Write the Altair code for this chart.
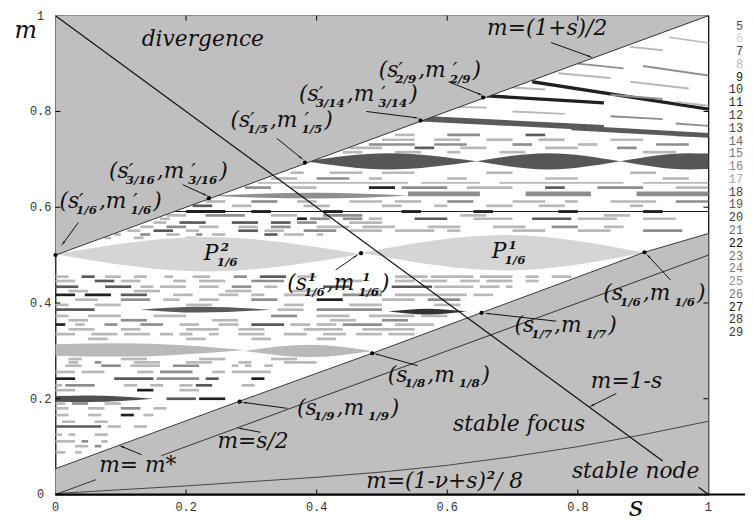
import math
import altair as alt
import pandas as pd

W, H = 660, 484

# ---------------- data ----------------
axis_vals = [0, 0.2, 0.4, 0.6, 0.8, 1]
axis_text = ["0", "0.2", "0.4", "0.6", "0.8", "1"]
inner_ticks = [0.2, 0.4, 0.6, 0.8]

# divergence boundary m=(1+s)/2
div_s = [0.0, 1.0]
div_m = [0.5, 1.0]
# lower boundary m = m*
mstar_s = [0.0, 0.28, 0.485, 0.653, 0.902, 1.0]
mstar_m = [0.054, 0.194, 0.295, 0.38, 0.506, 0.545]
# m=(1-nu+s)^2/8
para_s = [0.0, 0.1, 0.2, 0.3, 0.4, 0.5, 0.6, 0.7, 0.8, 0.9, 1.0]
para_m = [0.002, 0.01, 0.018, 0.027, 0.036, 0.047, 0.061, 0.079, 0.1, 0.125, 0.153]
# straight lines, visible pieces (s1, m1, s2, m2)
line_1ms = [(0.0, 1.0, 0.93, 0.07), (0.985, 0.015, 1.0, 0.0)]
line_half = [(0.0, 0.0, 0.062, 0.031), (0.162, 0.081, 1.0, 0.5)]

# special points
dot_s = [0.0, 0.235, 0.382, 0.559, 0.655, 0.468, 0.902, 0.6525, 0.485, 0.282]
dot_m = [0.5, 0.619, 0.693, 0.781, 0.829, 0.504, 0.506, 0.3795, 0.295, 0.194]

# arrows (from s, from m, to s, to m)
arrows = [
    (0.035, 0.568, 0.012, 0.525),
    (0.195, 0.647, 0.229, 0.626),
    (0.339, 0.744, 0.376, 0.703),
    (0.476, 0.800, 0.552, 0.787),
    (0.602, 0.862, 0.650, 0.836),
    (0.759, 0.944, 0.818, 0.915),
    (0.429, 0.469, 0.460, 0.498),
    (0.942, 0.448, 0.908, 0.498),
    (0.767, 0.362, 0.662, 0.378),
    (0.555, 0.269, 0.492, 0.293),
    (0.355, 0.180, 0.290, 0.192),
    (0.859, 0.211, 0.822, 0.186),
    (0.314, 0.130, 0.283, 0.138),
    (0.132, 0.083, 0.102, 0.100),
]

# lenses: (s1, h1, s_peak, h_peak, s2, h2, m_centre, colour)
lenses = [
    (0.0, 0.0, 0.23, 0.036, 0.468, 0.0, 0.502, "#d5d5d5"),
    (0.468, 0.0, 0.69, 0.037, 0.902, 0.0, 0.505, "#d5d5d5"),
    (0.0, 0.012, 0.10, 0.014, 0.29, 0.0, 0.302, "#b9b9b9"),
    (0.29, 0.0, 0.39, 0.013, 0.485, 0.0, 0.300, "#b9b9b9"),
    (0.382, 0.0, 0.51, 0.017, 0.645, 0.0, 0.696, "#565656"),
    (0.645, 0.0, 0.755, 0.017, 0.865, 0.0, 0.696, "#565656"),
    (0.865, 0.0, 0.97, 0.017, 1.0, 0.016, 0.696, "#565656"),
    (0.235, 0.0, 0.40, 0.006, 0.54, 0.0, 0.624, "#8e8e8e"),
    (0.13, 0.0, 0.22, 0.006, 0.33, 0.0, 0.386, "#5a5a5a"),
    (0.51, 0.0, 0.57, 0.006, 0.63, 0.0, 0.382, "#333333"),
    (0.0, 0.006, 0.05, 0.007, 0.15, 0.0, 0.200, "#4f4f4f"),
]

tone_colors = ["#202020", "#5a5a5a", "#8e8e8e", "#b8b8b8"]

# horizontal dashes: m level, [(s1, s2, tone)]
row_m = [0.612, 0.603, 0.583, 0.576, 0.568, 0.559, 0.551, 0.543, 0.536,
         0.751, 0.741, 0.731, 0.724, 0.715, 0.672, 0.66, 0.651, 0.641, 0.628,
         0.455, 0.446, 0.434, 0.425, 0.417, 0.407, 0.396, 0.386, 0.373, 0.364,
         0.355, 0.345, 0.335, 0.325, 0.283, 0.276, 0.269, 0.256, 0.242, 0.228,
         0.218, 0.2, 0.19, 0.18, 0.166, 0.152, 0.142, 0.125, 0.111, 0.101, 0.088]
row_segs = [
    [(0.23, 0.26, 3), (0.3, 0.34, 2), (0.37, 0.4, 3), (0.45, 0.5, 3), (0.52, 0.56, 3), (0.6, 0.64, 2), (0.7, 0.75, 3), (0.78, 0.8, 3), (0.85, 0.92, 3), (0.95, 1.0, 2)],
    [(0.21, 0.24, 1), (0.27, 0.3, 3), (0.38, 0.42, 3), (0.5, 0.53, 3), (0.58, 0.6, 3), (0.66, 0.7, 3), (0.74, 0.78, 3), (0.88, 0.9, 3)],
    [(0.17, 0.2, 3), (0.23, 0.29, 2), (0.33, 0.37, 3), (0.41, 0.47, 2), (0.62, 0.66, 3), (0.84, 0.88, 3)],
    [(0.16, 0.175, 3), (0.37, 0.385, 0), (0.39, 0.42, 2), (0.44, 0.47, 2), (0.48, 0.5, 3), (0.55, 0.6, 1), (0.64, 0.7, 3), (0.73, 0.79, 1), (0.8, 0.86, 3), (0.9, 0.95, 3)],
    [(0.15, 0.17, 3), (0.19, 0.23, 1), (0.27, 0.31, 1), (0.33, 0.36, 1), (0.37, 0.4, 2), (0.45, 0.5, 3)],
    [(0.13, 0.15, 3), (0.17, 0.2, 2), (0.22, 0.25, 3), (0.28, 0.31, 3), (0.33, 0.36, 2), (0.4, 0.45, 3), (0.47, 0.52, 3), (0.57, 0.62, 3), (0.67, 0.72, 3), (0.76, 0.8, 2), (0.84, 0.87, 3)],
    [(0.11, 0.13, 3), (0.15, 0.18, 1), (0.2, 0.22, 3), (0.28, 0.31, 1), (0.32, 0.35, 3), (0.38, 0.43, 2), (0.45, 0.5, 3), (0.52, 0.58, 3), (0.6, 0.62, 3), (0.7, 0.75, 3), (0.8, 0.85, 3), (0.9, 0.96, 2)],
    [(0.09, 0.1, 3), (0.13, 0.145, 2), (0.17, 0.19, 3), (0.215, 0.225, 2), (0.24, 0.26, 3), (0.32, 0.34, 1), (0.35, 0.38, 3), (0.4, 0.41, 3)],
    [(0.075, 0.085, 3), (0.12, 0.135, 3), (0.2, 0.215, 3)],
    [(0.52, 0.55, 3), (0.6, 0.65, 2), (0.72, 0.75, 1), (0.95, 1.0, 1)],
    [(0.5, 0.55, 3), (0.58, 0.62, 3), (0.66, 0.7, 3), (0.74, 0.78, 3), (0.85, 0.9, 3)],
    [(0.48, 0.55, 2), (0.58, 0.63, 2), (0.7, 0.73, 2), (0.8, 0.83, 3), (0.92, 0.97, 2)],
    [(0.45, 0.5, 3), (0.55, 0.58, 1), (0.62, 0.66, 3), (0.75, 0.8, 3), (0.86, 0.89, 2)],
    [(0.44, 0.47, 3), (0.52, 0.56, 3), (0.6, 0.62, 3), (0.68, 0.72, 3), (0.9, 0.95, 3)],
    [(0.36, 0.38, 3), (0.42, 0.47, 3), (0.5, 0.55, 3), (0.66, 0.7, 3), (0.88, 0.92, 3)],
    [(0.33, 0.37, 3), (0.4, 0.45, 2), (0.48, 0.5, 3), (0.6, 0.63, 3), (0.75, 0.8, 3), (0.93, 0.97, 3)],
    [(0.31, 0.54, 3), (0.56, 0.65, 3), (0.68, 0.87, 3), (0.9, 1.0, 3)],
    [(0.29, 0.33, 2), (0.36, 0.4, 3), (0.48, 0.52, 0), (0.53, 0.6, 2), (0.63, 0.7, 3), (0.75, 0.78, 1), (0.83, 0.9, 2), (0.95, 1.0, 3)],
    [(0.54, 0.65, 2), (0.72, 0.82, 2), (0.89, 1.0, 2)],
    [(0.0, 0.02, 3), (0.04, 0.06, 1), (0.076, 0.1, 3), (0.12, 0.14, 3), (0.167, 0.18, 3), (0.21, 0.237, 3), (0.273, 0.293, 2), (0.313, 0.353, 1), (0.37, 0.4, 3), (0.52, 0.57, 3), (0.575, 0.64, 3), (0.65, 0.7, 3), (0.72, 0.74, 3), (0.76, 0.79, 3)],
    [(0.0, 0.03, 3), (0.06, 0.09, 1), (0.1, 0.13, 3), (0.18, 0.2, 3), (0.22, 0.26, 3), (0.3, 0.35, 2), (0.43, 0.47, 3), (0.52, 0.55, 3), (0.56, 0.6, 3), (0.62, 0.65, 3), (0.66, 0.7, 3), (0.72, 0.74, 3)],
    [(0.0, 0.035, 1), (0.076, 0.116, 1), (0.13, 0.15, 3), (0.16, 0.2, 3), (0.22, 0.25, 3), (0.27, 0.3, 2), (0.32, 0.34, 3), (0.41, 0.45, 1), (0.515, 0.577, 1), (0.58, 0.64, 3), (0.65, 0.68, 3), (0.69, 0.7, 3)],
    [(0.02, 0.05, 3), (0.12, 0.16, 3), (0.26, 0.3, 3), (0.36, 0.4, 3), (0.47, 0.5, 3)],
    [(0.0, 0.03, 0), (0.045, 0.085, 0), (0.1, 0.14, 1), (0.18, 0.21, 3), (0.25, 0.28, 3), (0.3, 0.32, 3), (0.35, 0.4, 3), (0.44, 0.5, 2), (0.52, 0.63, 3), (0.64, 0.67, 3)],
    [(0.03, 0.065, 3), (0.1, 0.145, 2), (0.165, 0.19, 3), (0.22, 0.25, 3), (0.3, 0.34, 2), (0.4, 0.44, 0), (0.5, 0.55, 3), (0.57, 0.62, 2)],
    [(0.0, 0.02, 3), (0.06, 0.1, 3), (0.2, 0.24, 3), (0.35, 0.38, 3), (0.45, 0.5, 3), (0.58, 0.62, 3)],
    [(0.0, 0.06, 1), (0.34, 0.38, 3), (0.4, 0.5, 2)],
    [(0.0, 0.02, 3), (0.05, 0.1, 3), (0.15, 0.2, 3), (0.33, 0.37, 2), (0.4, 0.45, 3), (0.48, 0.55, 3), (0.56, 0.6, 3)],
    [(0.02, 0.05, 3), (0.1, 0.14, 2), (0.24, 0.28, 3), (0.42, 0.46, 3), (0.5, 0.54, 2)],
    [(0.0, 0.015, 0), (0.03, 0.045, 3), (0.075, 0.095, 2), (0.13, 0.165, 2), (0.19, 0.22, 3), (0.25, 0.28, 3), (0.3, 0.35, 1), (0.36, 0.39, 3), (0.4, 0.43, 3), (0.44, 0.5, 2), (0.52, 0.58, 3)],
    [(0.02, 0.06, 3), (0.1, 0.13, 3), (0.2, 0.25, 3), (0.28, 0.32, 3), (0.38, 0.44, 3), (0.47, 0.55, 3)],
    [(0.0, 0.03, 3), (0.055, 0.095, 3), (0.105, 0.145, 3), (0.16, 0.18, 3), (0.19, 0.21, 3), (0.235, 0.25, 3), (0.28, 0.32, 3), (0.35, 0.385, 3), (0.41, 0.445, 3), (0.46, 0.5, 3), (0.51, 0.55, 3)],
    [(0.05, 0.08, 3), (0.2, 0.23, 3), (0.3, 0.33, 3), (0.4, 0.43, 3)],
    [(0.02, 0.04, 3), (0.1, 0.14, 3), (0.22, 0.26, 3), (0.33, 0.37, 3)],
    [(0.02, 0.035, 3), (0.06, 0.07, 2), (0.12, 0.16, 3), (0.2, 0.24, 3), (0.28, 0.3, 3), (0.35, 0.4, 3)],
    [(0.015, 0.04, 3), (0.07, 0.1, 2), (0.115, 0.16, 3), (0.18, 0.22, 2), (0.27, 0.28, 3), (0.29, 0.3, 3), (0.32, 0.333, 3)],
    [(0.0, 0.03, 3), (0.04, 0.075, 3), (0.125, 0.15, 3), (0.16, 0.21, 2), (0.24, 0.26, 3), (0.27, 0.33, 3)],
    [(0.0, 0.03, 0), (0.09, 0.15, 1), (0.155, 0.22, 2), (0.23, 0.25, 1), (0.3, 0.32, 0)],
    [(0.0, 0.01, 3), (0.015, 0.06, 2), (0.105, 0.125, 3), (0.145, 0.165, 3), (0.19, 0.21, 3), (0.215, 0.24, 1), (0.285, 0.305, 3)],
    [(0.0, 0.03, 3), (0.125, 0.15, 0), (0.19, 0.22, 3)],
    [(0.17, 0.215, 1), (0.22, 0.26, 0)],
    [(0.0, 0.015, 3), (0.025, 0.05, 2), (0.075, 0.1, 3)],
    [(0.0, 0.02, 3), (0.05, 0.075, 3), (0.1, 0.13, 2), (0.15, 0.17, 3)],
    [(0.0, 0.02, 3), (0.05, 0.07, 3), (0.1, 0.12, 0), (0.135, 0.15, 3)],
    [(0.01, 0.03, 3), (0.06, 0.08, 3)],
    [(0.0, 0.07, 1), (0.08, 0.1, 3), (0.12, 0.14, 3)],
    [(0.0, 0.01, 3), (0.02, 0.03, 3), (0.06, 0.08, 3)],
    [(0.0, 0.03, 3), (0.04, 0.05, 2), (0.07, 0.08, 3)],
    [(0.03, 0.05, 3), (0.06, 0.07, 2)],
    [(0.0, 0.015, 3), (0.03, 0.04, 3)],
]
# the long black line at m=0.591 and its thicker pieces
black_line = (0.182, 1.0, 0.591)
black_pieces = [(0.2, 0.26), (0.3, 0.33), (0.41, 0.44), (0.53, 0.56), (0.64, 0.67), (0.77, 0.8), (0.9, 0.93)]

# slanted bands near the top right: (s1, m1, s2, m2, tone, half-thickness)
slanted = [
    (0.559, 0.785, 0.84, 0.766, 1, 0.006),
    (0.79, 0.766, 1.0, 0.75, 1, 0.005),
    (0.655, 0.833, 0.84, 0.818, 0, 0.0035),
    (0.73, 0.862, 1.0, 0.805, 0, 0.0035),
    (0.6, 0.81, 0.66, 0.808, 3, 0.002),
    (0.7, 0.8, 0.78, 0.795, 3, 0.002),
    (0.85, 0.79, 0.93, 0.784, 2, 0.002),
    (0.95, 0.775, 1.0, 0.77, 2, 0.002),
    (0.7, 0.85, 0.75, 0.846, 3, 0.002),
    (0.85, 0.835, 0.93, 0.826, 2, 0.002),
    (0.95, 0.82, 1.0, 0.812, 3, 0.002),
    (0.77, 0.88, 0.85, 0.87, 3, 0.002),
    (0.88, 0.862, 0.97, 0.848, 3, 0.002),
    (0.8, 0.9, 0.87, 0.89, 2, 0.002),
    (0.9, 0.895, 1.0, 0.875, 2, 0.002),
    (0.88, 0.935, 0.93, 0.928, 3, 0.002),
    (0.94, 0.955, 1.0, 0.943, 3, 0.0015),
]

# legend of periods on the right
periods = list(range(5, 30))
period_colors = ["#505050", "#d0d0d0", "#404040", "#b8b8b8", "#202020", "#303030", "#303030",
                 "#404040", "#484848", "#686868", "#7a7a7a", "#888888", "#a8a8a8", "#404040",
                 "#585858", "#383838", "#707070", "#101010", "#707070", "#808080", "#909090",
                 "#787878", "#181818", "#383838", "#383838"]


# annotations: anchor (left, baseline) in data units and pieces
def tup(sub, sup=None):
    a = [("n", "(s")]
    if sup is not None:
        a.append(sup)
    a += [("b", sub), ("n", " ,m")]
    if sup is not None:
        a.append(sup)
    a += [("b", sub), ("n", ")")]
    return a


PR = ("q", "′")
labels = [
    (0.006, 0.599, tup("1/6", PR)),
    (0.082, 0.661, tup("3/16", PR)),
    (0.268, 0.767, tup("1/5", PR)),
    (0.373, 0.822, tup("3/14", PR)),
    (0.495, 0.872, tup("2/9", PR)),
    (0.661, 0.959, [("n", "m=(1+s)/2")]),
    (0.132, 0.936, [("n", "divergence")]),
    (0.227, 0.490, [("n", "P"), ("p", "2"), ("b", "1/6")]),
    (0.668, 0.494, [("n", "P"), ("p", "1"), ("b", "1/6")]),
    (0.355, 0.428, tup("1/6", ("p", "1"))),
    (0.839, 0.407, tup("1/6")),
    (0.703, 0.339, tup("1/7")),
    (0.509, 0.236, tup("1/8")),
    (0.370, 0.167, tup("1/9")),
    (0.820, 0.223, [("n", "m=1-s")]),
    (0.609, 0.132, [("n", "stable focus")]),
    (0.791, 0.035, [("n", "stable node")]),
    (0.476, 0.0145, [("n", "m=(1-ν+s)"), ("p", "2"), ("n", "/ 8")]),
    (0.248, 0.097, [("n", "m=s/2")]),
    (0.067, 0.048, [("n", "m= m*")]),
]

# ---------------- build tables ----------------
CW = {"(": 0.39, ")": 0.39, "s": 0.513, "m": 0.948, ",": 0.318, "=": 0.838, "+": 0.838,
      "-": 0.338, "/": 0.337, " ": 0.318, "P": 0.733, "*": 0.5, "ν": 0.6, "′": 0.3,
      "a": 0.596, "b": 0.64, "c": 0.56, "d": 0.64, "e": 0.592, "f": 0.352, "g": 0.64,
      "i": 0.32, "l": 0.32, "n": 0.644, "o": 0.602, "r": 0.478, "t": 0.402, "u": 0.644,
      "v": 0.565}
# italic correction: scripts tuck in (sub) or lean out (sup)
STY = {"n": dict(size=22, bold=False, dy=0, kern=0),
       "b": dict(size=12, bold=True, dy=6, kern=-3),
       "p": dict(size=12, bold=True, dy=-9, kern=1),
       "q": dict(size=20, bold=False, dy=0, kern=0)}


def tw(t, size, bold):
    return sum(CW.get(c, 0.636) for c in t) * size * (1.09 if bold else 1.0)


text_rows = []
for s0, m0, parts in labels:
    cur, prev, sx = 0.0, None, 0.0
    for kind, txt in parts:
        st = STY[kind]
        w = tw(txt, st["size"], st["bold"])
        if kind != "n":
            if prev is not None and prev != "n" and prev != kind:
                x = sx
                cur = max(cur, x + w + st["kern"])
            else:
                x = cur
                sx = x
                cur = x + w + st["kern"]
            if kind == "b":
                cur += 2
        else:
            x = cur
            cur = x + w
        text_rows.append(dict(s=s0 + (x + st["kern"]) / W, m=m0 - st["dy"] / H,
                              txt=txt, kind=kind))
        prev = kind
text_df = pd.DataFrame(text_rows)

rect_rows = []
for m, segs in zip(row_m, row_segs):
    hh = 0.0018 if m == 0.651 else (0.005 if m == 0.628 else 0.0028)
    for s1, s2, t in segs:
        rect_rows.append(dict(s1=s1, s2=s2, lo=m - hh, hi=m + hh, col=tone_colors[t]))
rect_rows.append(dict(s1=black_line[0], s2=black_line[1], lo=black_line[2] - 0.0012,
                      hi=black_line[2] + 0.0012, col=tone_colors[0]))
for s1, s2 in black_pieces:
    rect_rows.append(dict(s1=s1, s2=s2, lo=black_line[2] - 0.003, hi=black_line[2] + 0.003,
                          col=tone_colors[0]))
rect_df = pd.DataFrame(rect_rows)

slant_rows = []
for i, (s1, m1, s2, m2, t, hh) in enumerate(slanted):
    for s, m in ((s1, m1), (s2, m2)):
        slant_rows.append(dict(id=i, s=s, lo=m - hh, hi=m + hh, col=tone_colors[t]))
slant_df = pd.DataFrame(slant_rows)

lens_rows = []
for i, (s1, h1, sp, hp, s2, h2, mc, col) in enumerate(lenses):
    for s, hh in ((s1, h1), (sp, hp), (s2, h2)):
        lens_rows.append(dict(id=i, s=s, lo=mc - hh, hi=mc + hh, col=col))
lens_df = pd.DataFrame(lens_rows)

div_df = pd.DataFrame({"s": div_s, "lo": div_m, "hi": [1.0] * len(div_s)})
low_df = pd.DataFrame({"s": mstar_s, "lo": [0.0] * len(mstar_s), "hi": mstar_m})
mstar_df = pd.DataFrame({"s": mstar_s, "m": mstar_m})
para_df = pd.DataFrame({"s": para_s, "m": para_m})
seg_df = pd.DataFrame(
    [dict(s1=a, m1=b, s2=c, m2=d, kind="heavy") for a, b, c, d in line_1ms]
    + [dict(s1=a, m1=b, s2=c, m2=d, kind="thin") for a, b, c, d in line_half]
    + [dict(s1=div_s[0], m1=div_m[0], s2=div_s[1], m2=div_m[1], kind="thin")])
dot_df = pd.DataFrame({"s": dot_s, "m": dot_m})

arr_rows, head_rows = [], []
for s1, m1, s2, m2 in arrows:
    arr_rows.append(dict(s1=s1, m1=m1, s2=s2, m2=m2))
    dxp, dyp = (s2 - s1) * W, -(m2 - m1) * H
    ang = math.degrees(math.atan2(dxp, -dyp)) % 360
    head_rows.append(dict(s=s2, m=m2, ang=ang))
arr_df = pd.DataFrame(arr_rows)
head_df = pd.DataFrame(head_rows)

tick_df = pd.DataFrame({"t": inner_ticks})
axis_df = pd.DataFrame({"v": axis_vals, "lab": axis_text})
leg_df = pd.DataFrame({"period": [str(p) for p in periods], "col": period_colors})

# ---------------- chart ----------------
xs = alt.Scale(domain=[0, 1], nice=False, zero=False)
ys = alt.Scale(domain=[0, 1], nice=False, zero=False)


def X(f):
    return alt.X(f, type="quantitative", scale=xs, axis=None)


def Y(f):
    return alt.Y(f, type="quantitative", scale=ys, axis=None)


COL = alt.Color("col:N", scale=None)
REGION = "#bfbfbf"

stripes = alt.Chart(rect_df).mark_rect().encode(
    x=X("s1"), x2="s2", y=Y("lo"), y2="hi", color=COL)
slants = alt.Chart(slant_df).mark_area().encode(
    x=X("s"), y=Y("lo"), y2="hi", detail="id:N", color=COL)
lens_layer = alt.Chart(lens_df).mark_area(interpolate="monotone").encode(
    x=X("s"), y=Y("lo"), y2="hi", detail="id:N", color=COL)

div_layer = alt.Chart(div_df).mark_area(color=REGION).encode(
    x=X("s"), y=Y("lo"), y2="hi")
low_layer = alt.Chart(low_df).mark_area(color=REGION).encode(
    x=X("s"), y=Y("lo"), y2="hi")

mstar_line = alt.Chart(mstar_df).mark_line(color="#3a3a3a", strokeWidth=1).encode(
    x=X("s"), y=Y("m"))
para_line = alt.Chart(para_df).mark_line(color="#444444", strokeWidth=1).encode(
    x=X("s"), y=Y("m"))
heavy = alt.Chart(seg_df).transform_filter(alt.datum.kind == "heavy").mark_rule(
    color="#111111", strokeWidth=1.2).encode(x=X("s1"), x2="s2", y=Y("m1"), y2="m2")
thin = alt.Chart(seg_df).transform_filter(alt.datum.kind == "thin").mark_rule(
    color="#333333", strokeWidth=1).encode(x=X("s1"), x2="s2", y=Y("m1"), y2="m2")

dots = alt.Chart(dot_df).mark_circle(color="black", size=18, opacity=1).encode(
    x=X("s"), y=Y("m"))
arr = alt.Chart(arr_df).mark_rule(color="#111111", strokeWidth=1).encode(
    x=X("s1"), x2="s2", y=Y("m1"), y2="m2")
heads = alt.Chart(head_df).mark_point(shape="wedge", filled=True, color="#111111",
                                       size=45, opacity=1).encode(
    x=X("s"), y=Y("m"), angle=alt.Angle("ang:Q", scale=None))

text_layers = []
for kind, size, weight in (("n", 22, "normal"), ("b", 12, "bold"), ("p", 12, "bold"),
                           ("q", 20, "normal")):
    text_layers.append(
        alt.Chart(text_df).transform_filter(alt.datum.kind == kind).mark_text(
            align="left", baseline="alphabetic", font="DejaVu Serif", fontStyle="italic",
            fontSize=size, fontWeight=weight, color="#111111").encode(
            x=X("s"), y=Y("m"), text="txt:N"))

# axis tick labels and titles
xlab = alt.Chart(axis_df).mark_text(align="center", baseline="middle", font="Liberation Mono",
                                    fontSize=12, color="#333333").encode(
    x=X("v"), y=alt.value(H + 13), text="lab:N")
ylab = alt.Chart(axis_df).mark_text(align="center", baseline="middle", font="Liberation Mono",
                                    fontSize=12, color="#333333").encode(
    y=Y("v"), x=alt.value(-15), text="lab:N")
titles_df = pd.DataFrame({"t": ["s", "m"]})
xtitle = alt.Chart(titles_df).transform_filter(alt.datum.t == "s").mark_text(
    align="center", baseline="alphabetic", font="DejaVu Serif", fontStyle="italic",
    fontSize=28, color="#111111").encode(x=alt.value(587), y=alt.value(H + 22), text="t:N")
ytitle = alt.Chart(titles_df).transform_filter(alt.datum.t == "m").mark_text(
    align="center", baseline="alphabetic", font="DejaVu Serif", fontStyle="italic",
    fontSize=24, color="#111111").encode(x=alt.value(-30), y=alt.value(23), text="t:N")

bt = alt.Chart(tick_df).mark_rule(color="black").encode(
    x=X("t"), y=alt.value(H), y2=alt.value(H - 5))
tt = alt.Chart(tick_df).mark_rule(color="black").encode(
    x=X("t"), y=alt.value(0), y2=alt.value(5))
lt = alt.Chart(tick_df).mark_rule(color="black").encode(
    y=Y("t"), x=alt.value(0), x2=alt.value(5))
rt = alt.Chart(tick_df).mark_rule(color="black").encode(
    y=Y("t"), x=alt.value(W), x2=alt.value(W - 5))
ext = alt.Chart(tick_df.head(1)).mark_rule(color="black", strokeWidth=2).encode(
    x=alt.value(0), x2=alt.value(W + 45), y=alt.value(H))

legend = alt.Chart(leg_df).mark_text(align="right", baseline="middle",
                                     font="Liberation Mono", fontSize=12).encode(
    x=alt.value(W + 35),
    y=alt.Y("period:N", sort=[str(p) for p in periods], axis=None,
            scale=alt.Scale(range=[10, 320], padding=0)),
    text="period:N", color=COL)

chart = alt.layer(
    stripes, slants, lens_layer, div_layer, low_layer,
    mstar_line, para_line, thin, heavy, arr, heads, dots,
    *text_layers, xlab, ylab, xtitle, ytitle, bt, tt, lt, rt, ext, legend,
).resolve_scale(y="independent").properties(
    width=W, height=H, autosize="none",
    padding={"left": 48, "top": 5, "right": 37, "bottom": 27},
).configure_view(stroke="black", strokeWidth=1.2)

chart.save("out.html", embed_options={"renderer": "svg", "actions": False})
